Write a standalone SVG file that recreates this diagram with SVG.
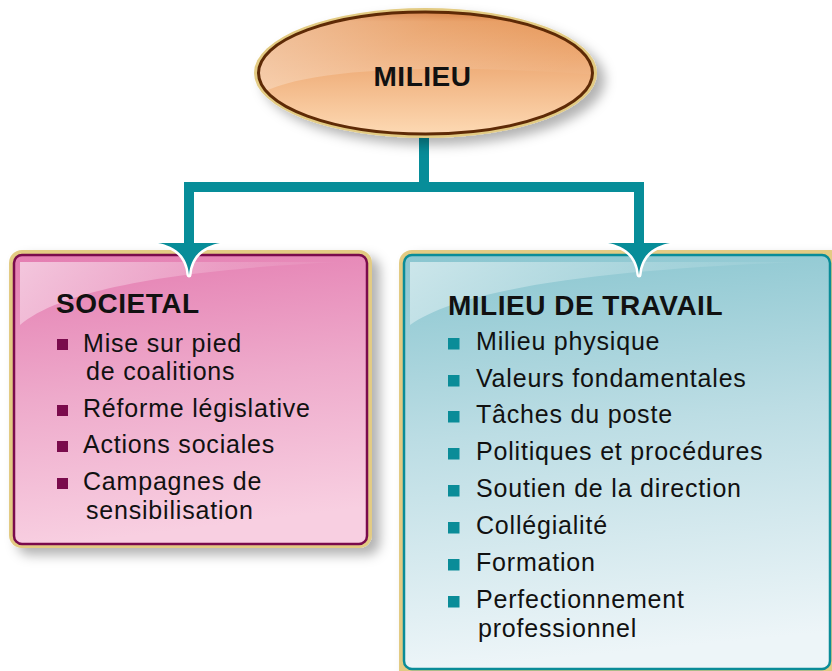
<svg xmlns="http://www.w3.org/2000/svg" width="832" height="671" viewBox="0 0 832 671">
<style>
  .t{font-family:"Liberation Sans",Arial,Helvetica,sans-serif;fill:#111;}
  .h{font-weight:bold;font-size:28px;letter-spacing:0.5px;}
  .b{font-size:25px;letter-spacing:0.8px;}
  .bl{fill:#7a0b4c;}
  .bt{fill:#0a8c98;}
  .gold{fill:#e3cb83;}
  .conn{fill:none;stroke:#078d99;stroke-width:10;stroke-linejoin:miter;}
</style>
<defs>
  <filter id="sh" x="-10%" y="-10%" width="130%" height="130%">
    <feDropShadow dx="8" dy="7" stdDeviation="6" flood-color="#000" flood-opacity="0.3"/>
  </filter>
  <linearGradient id="ellG" x1="0" y1="0" x2="0" y2="1">
    <stop offset="0" stop-color="#d06a22"/>
    <stop offset="0.08" stop-color="#e5914f"/>
    <stop offset="0.45" stop-color="#efae7a"/>
    <stop offset="1" stop-color="#fdd9b3"/>
  </linearGradient>
  <linearGradient id="ellGloss" x1="0" y1="0" x2="1" y2="0.4">
    <stop offset="0" stop-color="#fff" stop-opacity="0.75"/>
    <stop offset="0.5" stop-color="#fff" stop-opacity="0.3"/>
    <stop offset="1" stop-color="#fff" stop-opacity="0.05"/>
  </linearGradient>
  <linearGradient id="pinkG" x1="0" y1="0" x2="0.15" y2="1">
    <stop offset="0" stop-color="#e47db1"/>
    <stop offset="0.5" stop-color="#eeaacb"/>
    <stop offset="1" stop-color="#f8cfe1"/>
  </linearGradient>
  <linearGradient id="tealG" x1="0" y1="0" x2="0.1" y2="1">
    <stop offset="0" stop-color="#8ac6d0"/>
    <stop offset="0.45" stop-color="#bcdde4"/>
    <stop offset="1" stop-color="#edf5f8"/>
  </linearGradient>
  <linearGradient id="glossG" x1="0" y1="0" x2="1" y2="0.3">
    <stop offset="0" stop-color="#fff" stop-opacity="0.8"/>
    <stop offset="0.6" stop-color="#fff" stop-opacity="0.25"/>
    <stop offset="1" stop-color="#fff" stop-opacity="0"/>
  </linearGradient>
  <clipPath id="ellClip"><ellipse cx="425.5" cy="73" rx="167" ry="61"/></clipPath>
  <path id="arrow" d="M-31,0 H31 C20,2 2,8 0,32 C-2,8 -20,2 -31,0 Z" fill="#078d99" stroke="#fff" stroke-width="5" paint-order="stroke" stroke-linejoin="round"/>
</defs>

<g id="societal">
  <rect x="9" y="250" width="363" height="298" rx="13" class="gold" filter="url(#sh)"/>
  <rect x="14" y="255" width="353" height="289" rx="8" fill="url(#pinkG)" stroke="#7a0b4c" stroke-width="2.5"/>
  <path d="M20,262 H338 C220,268 70,282 20,325 Z" fill="url(#glossG)" opacity="0.7"/>
  <text class="t h" x="56" y="313">SOCIETAL</text>
  <rect class="bl" x="57" y="339" width="11" height="11"/>
  <text class="t b" x="83" y="352">Mise sur pied</text>
  <text class="t b" x="86" y="380">de coalitions</text>
  <rect class="bl" x="57" y="405" width="11" height="11"/>
  <text class="t b" x="83" y="417">Réforme législative</text>
  <rect class="bl" x="57" y="441" width="11" height="11"/>
  <text class="t b" x="83" y="453">Actions sociales</text>
  <rect class="bl" x="57" y="478" width="11" height="11"/>
  <text class="t b" x="83" y="490">Campagnes de</text>
  <text class="t b" x="86" y="519">sensibilisation</text>
</g>

<g id="travail">
  <rect x="399" y="250" width="445" height="435" rx="13" class="gold" filter="url(#sh)"/>
  <rect x="404" y="255" width="426" height="414" rx="8" fill="url(#tealG)" stroke="#0a8c98" stroke-width="2.5"/>
  <path d="M410,262 H800 C650,268 470,282 410,325 Z" fill="url(#glossG)" opacity="0.7"/>
  <text class="t h" x="448" y="315">MILIEU DE TRAVAIL</text>
  <rect class="bt" x="448" y="338" width="11.5" height="11.5"/>
  <text class="t b" x="476" y="350">Milieu physique</text>
  <rect class="bt" x="448" y="375" width="11.5" height="11.5"/>
  <text class="t b" x="476" y="387">Valeurs fondamentales</text>
  <rect class="bt" x="448" y="411" width="11.5" height="11.5"/>
  <text class="t b" x="476" y="423">Tâches du poste</text>
  <rect class="bt" x="448" y="448" width="11.5" height="11.5"/>
  <text class="t b" x="476" y="460">Politiques et procédures</text>
  <rect class="bt" x="448" y="485" width="11.5" height="11.5"/>
  <text class="t b" x="476" y="497">Soutien de la direction</text>
  <rect class="bt" x="448" y="522" width="11.5" height="11.5"/>
  <text class="t b" x="476" y="534">Collégialité</text>
  <rect class="bt" x="448" y="559" width="11.5" height="11.5"/>
  <text class="t b" x="476" y="571">Formation</text>
  <rect class="bt" x="448" y="596" width="11.5" height="11.5"/>
  <text class="t b" x="476" y="608">Perfectionnement</text>
  <text class="t b" x="478" y="637">professionnel</text>
</g>

<g id="connectors">
  <use href="#arrow" x="189" y="243"/>
  <use href="#arrow" x="639" y="243"/>
  <path class="conn" d="M424,136 V187"/>
  <path class="conn" d="M189,246 V187 H639 V246"/>
</g>

<g id="milieu">
  <ellipse cx="425.5" cy="73" rx="171.5" ry="65" class="gold" filter="url(#sh)"/>
  <ellipse cx="425.5" cy="73" rx="167" ry="61" fill="url(#ellG)"/>
  <g clip-path="url(#ellClip)">
    <path d="M258,95 C300,70 420,62 600,75 L600,10 L258,10 Z" fill="url(#ellGloss)" opacity="0.6"/>
  </g>
  <ellipse cx="425.5" cy="73" rx="167" ry="61" fill="none" stroke="#5e2a06" stroke-width="3"/>
  <text class="t" x="422.5" y="86" text-anchor="middle" font-weight="bold" font-size="28" letter-spacing="0.5">MILIEU</text>
</g>
</svg>
